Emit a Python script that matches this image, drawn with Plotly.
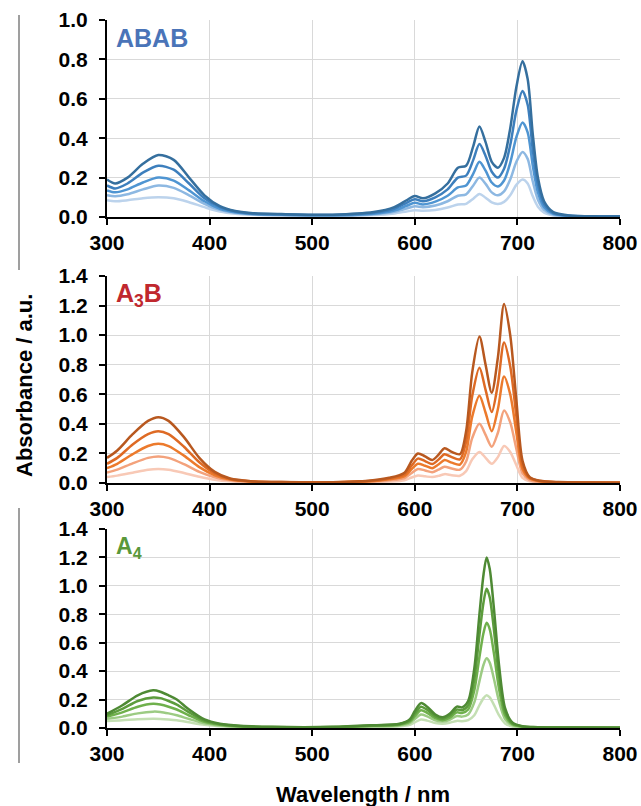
import plotly.graph_objects as go

# ---------------- DATA ----------------
wl_abab = [300, 308, 320, 335, 350, 365, 380, 395, 410, 425, 440, 470, 520, 560, 580, 592, 600, 608, 620, 632, 642, 650, 657, 663, 669, 675, 681, 687, 693, 699, 705, 710, 715, 720, 726, 735, 750, 780, 800]
abab_1 = [.19, .17, .20, .27, .315, .29, .20, .11, .055, .03, .02, .015, .012, .025, .05, .085, .107, .095, .12, .17, .25, .26, .36, .46, .38, .28, .25, .30, .45, .66, .79, .70, .42, .20, .08, .025, .008, .003, .002]
abab_2 = [.16, .145, .17, .225, .26, .24, .17, .095, .05, .028, .018, .013, .01, .021, .042, .072, .09, .08, .10, .14, .20, .21, .29, .37, .31, .23, .20, .245, .365, .54, .64, .57, .34, .165, .065, .02, .007, .003, .002]
abab_3 = [.135, .125, .14, .175, .20, .185, .135, .08, .042, .024, .016, .011, .009, .017, .033, .057, .072, .064, .078, .108, .15, .16, .22, .28, .235, .175, .155, .185, .275, .405, .48, .43, .26, .125, .05, .016, .006, .003, .002]
abab_4 = [.11, .105, .115, .14, .16, .148, .11, .067, .036, .021, .014, .01, .008, .014, .026, .043, .054, .05, .058, .08, .108, .115, .16, .20, .168, .125, .11, .13, .19, .28, .33, .295, .18, .088, .036, .012, .005, .002, .002]
abab_5 = [.085, .08, .085, .095, .10, .095, .075, .05, .028, .017, .012, .008, .006, .01, .018, .028, .034, .032, .036, .048, .063, .067, .093, .117, .098, .074, .066, .077, .11, .163, .19, .17, .105, .052, .022, .008, .003, .002, .001]

wl_a3b = [300, 310, 325, 340, 350, 360, 375, 390, 405, 420, 440, 470, 520, 555, 575, 590, 597, 603, 610, 617, 623, 629, 636, 644, 650, 656, 663, 669, 675, 681, 687, 693, 699, 705, 712, 722, 740, 770, 800]
a3b_1 = [.17, .22, .33, .42, .445, .42, .31, .17, .075, .03, .012, .006, .005, .015, .035, .07, .15, .20, .18, .155, .19, .235, .21, .195, .35, .75, .99, .80, .61, .85, 1.21, 1.0, .56, .15, .04, .015, .006, .003, .002]
a3b_2 = [.13, .17, .26, .33, .35, .33, .245, .14, .065, .027, .011, .006, .005, .013, .03, .058, .118, .165, .148, .128, .158, .195, .175, .16, .28, .59, .78, .63, .48, .67, .95, .79, .45, .12, .035, .013, .005, .003, .002]
a3b_3 = [.10, .13, .195, .25, .265, .25, .185, .107, .052, .023, .01, .005, .004, .011, .025, .047, .094, .13, .117, .10, .125, .155, .138, .125, .21, .45, .59, .475, .35, .50, .72, .60, .34, .095, .03, .011, .005, .002, .002]
a3b_4 = [.07, .09, .133, .17, .18, .17, .127, .075, .038, .018, .008, .004, .003, .008, .018, .034, .068, .095, .085, .073, .09, .11, .098, .09, .145, .305, .40, .325, .245, .34, .49, .41, .23, .065, .02, .008, .004, .002, .001]
a3b_5 = [.04, .05, .07, .09, .095, .09, .068, .042, .022, .011, .005, .003, .002, .005, .01, .019, .037, .05, .045, .04, .048, .06, .053, .049, .08, .16, .21, .17, .13, .175, .25, .21, .12, .035, .012, .005, .002, .001, .001]

wl_a4 = [300, 315, 330, 345, 352, 360, 368, 380, 395, 410, 430, 460, 520, 560, 585, 595, 600, 606, 612, 620, 627, 634, 641, 646, 652, 658, 663, 667, 670, 673, 677, 682, 688, 695, 705, 720, 750, 800]
a4_1 = [.10, .16, .23, .265, .255, .23, .20, .13, .06, .03, .015, .008, .008, .02, .03, .06, .12, .175, .15, .095, .075, .10, .15, .145, .19, .42, .80, 1.08, 1.20, 1.12, .85, .45, .14, .04, .012, .006, .003, .002]
a4_2 = [.09, .135, .19, .215, .21, .19, .165, .11, .052, .027, .013, .007, .007, .018, .027, .052, .10, .15, .128, .082, .065, .086, .13, .125, .16, .345, .655, .885, .98, .92, .70, .37, .115, .033, .011, .005, .003, .002]
a4_3 = [.08, .11, .15, .17, .165, .15, .13, .088, .043, .023, .011, .006, .006, .015, .023, .044, .083, .125, .107, .069, .055, .073, .11, .105, .13, .265, .50, .67, .74, .695, .53, .28, .09, .027, .009, .005, .002, .002]
a4_4 = [.065, .08, .103, .115, .113, .103, .09, .063, .033, .018, .009, .005, .005, .012, .018, .034, .064, .095, .082, .054, .045, .058, .085, .08, .095, .18, .33, .445, .49, .46, .35, .19, .062, .02, .007, .004, .002, .001]
a4_5 = [.05, .055, .062, .065, .064, .06, .054, .04, .023, .013, .007, .004, .004, .008, .012, .022, .04, .06, .052, .035, .03, .037, .05, .048, .055, .09, .16, .21, .23, .215, .165, .09, .032, .011, .004, .003, .001, .001]

x_ticks = [300, 400, 500, 600, 700, 800]
panel_names = ["ABAB", "A<sub>3</sub>B", "A<sub>4</sub>"]
y_max = [1.0, 1.4, 1.4]

# ---------------- STYLE ----------------
W, H = 641, 806
FONT = "Liberation Sans, Arial, sans-serif"
blues = ["#bcd3ec", "#8db8e2", "#4f95d2", "#3d7fbd", "#356f9e"]
oranges = ["#f8c9b6", "#f3a27c", "#ec7a2c", "#de6a24", "#b8581f"]
greens = ["#c4dfb3", "#9ccb83", "#6fb04c", "#5c9c3c", "#4e8a34"]
title_colors = ["#4a74b8", "#c0282e", "#5a983a"]

def px(v):
    return v / W

def py(v):
    return 1 - v / H

# panel geometry in pixels (top, bottom)
x0, x1 = 107, 620
panels_px = [(20, 217), (276, 483), (529, 728)]

fig = go.Figure()

datasets = [
    (wl_abab, [abab_5, abab_4, abab_3, abab_2, abab_1], blues),
    (wl_a3b, [a3b_5, a3b_4, a3b_3, a3b_2, a3b_1], oranges),
    (wl_a4, [a4_5, a4_4, a4_3, a4_2, a4_1], greens),
]

for i, (wl, series, cols) in enumerate(datasets):
    ax = "" if i == 0 else str(i + 1)
    for s, c in zip(series, cols):
        fig.add_trace(go.Scatter(
            x=wl, y=s, mode="lines",
            line=dict(color=c, width=2.5, shape="spline", smoothing=0.8),
            xaxis="x" + ax, yaxis="y" + ax, showlegend=False, hoverinfo="skip",
        ))

layout = dict(
    width=W, height=H, margin=dict(l=0, r=0, t=0, b=0, autoexpand=False),
    paper_bgcolor="white", plot_bgcolor="white",
    font=dict(family=FONT, color="black"),
    showlegend=False,
)

common_axis = dict(
    showgrid=True, gridcolor="#d9d9d9", gridwidth=1,
    showline=True, linecolor="black", linewidth=2,
    ticks="outside", ticklen=6, tickwidth=2, tickcolor="black",
    tickfont=dict(family=FONT, size=21, color="black", weight="bold"),
    zeroline=False, fixedrange=True, automargin=False,
)

for i, (top, bot) in enumerate(panels_px):
    ax = "" if i == 0 else str(i + 1)
    layout["xaxis" + ax] = dict(
        common_axis, domain=[px(x0), px(x1)], range=[300, 800],
        tickmode="array", tickvals=x_ticks, ticktext=[str(t) for t in x_ticks],
        anchor="y" + ax, ticklabelstandoff=0,
    )
    layout["yaxis" + ax] = dict(
        common_axis, domain=[py(bot), py(top)], range=[0, y_max[i]],
        dtick=0.2, tick0=0, tickformat=".1f", anchor="x" + ax,
        ticklabelstandoff=7,
    )

annotations = []
label_y = [38, 295, 547]
label_size = [25, 25, 23]
for i in range(3):
    annotations.append(dict(
        text="<b>" + panel_names[i] + "</b>", x=px(114), y=py(label_y[i]),
        xref="paper", yref="paper", xanchor="left", yanchor="middle",
        showarrow=False, font=dict(family=FONT, size=label_size[i], color=title_colors[i]),
    ))
annotations.append(dict(
    text="<b>Wavelength / nm</b>", x=px(363), y=py(794), xref="paper", yref="paper",
    xanchor="center", yanchor="middle", showarrow=False,
    font=dict(family=FONT, size=22, color="black"),
))
annotations.append(dict(
    text="<b>Absorbance / a.u.</b>", x=px(24), y=py(386), xref="paper", yref="paper",
    xanchor="center", yanchor="middle", showarrow=False, textangle=-90,
    font=dict(family=FONT, size=22, color="black"),
))
layout["annotations"] = annotations

layout["shapes"] = [
    dict(type="line", xref="paper", yref="paper", x0=px(19), x1=px(19), y0=py(15), y1=py(270),
         line=dict(color="#7f7f7f", width=1.5)),
    dict(type="line", xref="paper", yref="paper", x0=px(19), x1=px(19), y0=py(508), y1=py(763),
         line=dict(color="#7f7f7f", width=1.5)),
]

fig.update_layout(**layout)
fig.write_html(
    "out.html",
    config={"displayModeBar": False},
    post_script="document.body.style.margin='0';document.body.style.overflow='hidden';",
)
